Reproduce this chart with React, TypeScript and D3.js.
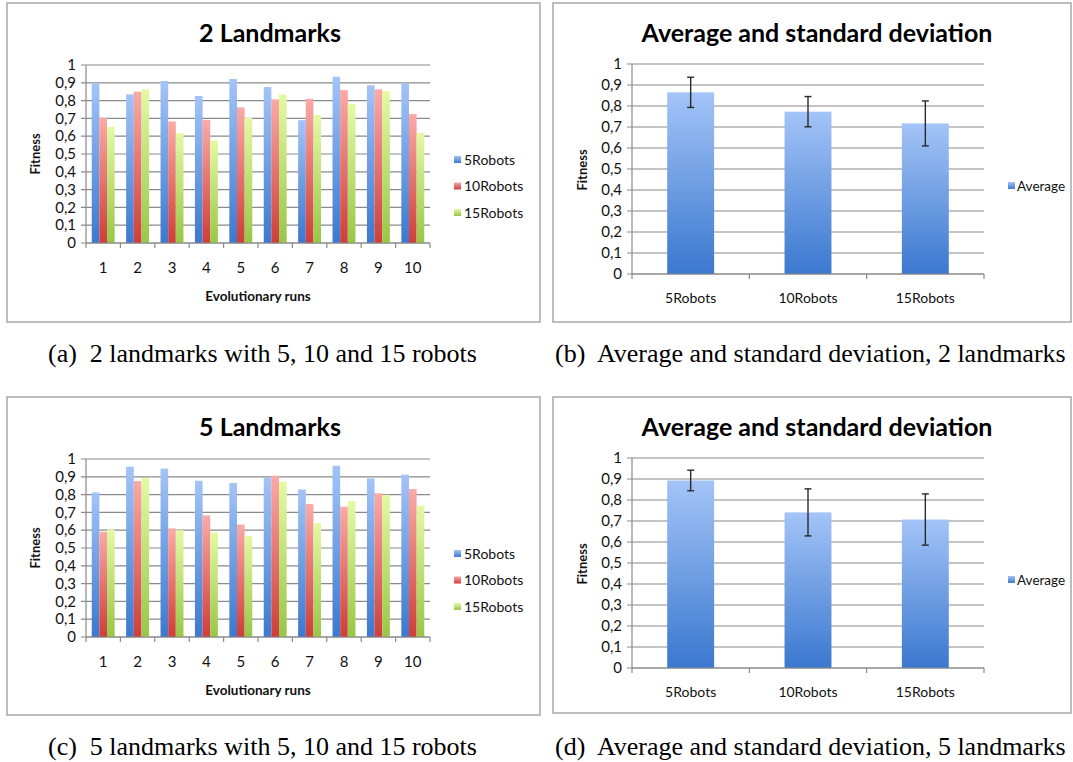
import React from 'react';
import * as d3 from 'd3';

const runs = ['1', '2', '3', '4', '5', '6', '7', '8', '9', '10'];
const seriesNames = ['5Robots', '10Robots', '15Robots'];
const yTicks = [0, 0.1, 0.2, 0.3, 0.4, 0.5, 0.6, 0.7, 0.8, 0.9, 1];

const lm2_5 = [0.897, 0.835, 0.91, 0.826, 0.921, 0.876, 0.69, 0.934, 0.886, 0.897];
const lm2_10 = [0.704, 0.85, 0.683, 0.692, 0.762, 0.807, 0.81, 0.859, 0.863, 0.724];
const lm2_15 = [0.653, 0.863, 0.617, 0.576, 0.704, 0.835, 0.719, 0.78, 0.852, 0.619];

const lm5_5 = [0.812, 0.957, 0.946, 0.878, 0.865, 0.897, 0.829, 0.962, 0.891, 0.912];
const lm5_10 = [0.591, 0.876, 0.61, 0.683, 0.632, 0.906, 0.747, 0.732, 0.807, 0.831];
const lm5_15 = [0.604, 0.893, 0.6, 0.587, 0.568, 0.872, 0.64, 0.764, 0.799, 0.739];

const avg2 = [0.865, 0.773, 0.717];
const sd2 = [0.072, 0.072, 0.107];
const avg5 = [0.893, 0.741, 0.707];
const sd5 = [0.049, 0.112, 0.122];

const FONT = 'Lato, "Open Sans", sans-serif';
const fmt = (v: number) => (v === 0 || v === 1 ? String(v) : v.toFixed(1).replace('.', ','));

const gradIds = ['gBlue', 'gRed', 'gGreen'];

function Defs() {
  const stops = [
    ['#a3c4f7', '#3b78cf'],
    ['#faaaa7', '#cf3d39'],
    ['#e4f9a4', '#98c646'],
  ];
  return (
    <defs>
      {stops.map((s, i) => (
        <linearGradient key={i} id={gradIds[i]} x1="0" y1="0" x2="0" y2="1">
          <stop offset="0" stopColor={s[0]} />
          <stop offset="1" stopColor={s[1]} />
        </linearGradient>
      ))}
    </defs>
  );
}

type Frame = { x0: number; y0: number; x1: number; y1: number };

function YAxis({ y, left, right }: { y: d3.ScaleLinear<number, number>; left: number; right: number }) {
  return (
    <g>
      {yTicks.map((t) => (
        <g key={t}>
          <line x1={left - 5} x2={right} y1={y(t)} y2={y(t)} stroke="#8a8a8a" strokeWidth={1.2} />
          <text x={left - 10} y={y(t)} dy="0.35em" textAnchor="end" fontSize={15} fontFamily={FONT} fill="#111">
            {fmt(t)}
          </text>
        </g>
      ))}
      <line x1={left} x2={left} y1={y(1)} y2={y(0)} stroke="#8a8a8a" strokeWidth={1.2} />
    </g>
  );
}

function GroupedPanel({ f, title, data, dy }: { f: Frame; title: string; data: number[][]; dy: number }) {
  const left = 86, right = 430, top = 65 + dy, bottom = 243 + dy;
  const x0 = d3.scaleBand<string>().domain(runs).range([left, right]).paddingInner(0).paddingOuter(0);
  const bw = x0.bandwidth() / 4.5;
  const y = d3.scaleLinear().domain([0, 1]).range([bottom, top]);
  return (
    <g>
      <rect x={f.x0} y={f.y0} width={f.x1 - f.x0} height={f.y1 - f.y0} fill="#fff" stroke="#a8a8a8" strokeWidth={1.5} />
      <text x={270} y={33 + dy} dy="0.35em" textAnchor="middle" fontSize={25} fontWeight="bold" fontFamily={FONT} fill="#000">
        {title}
      </text>
      <YAxis y={y} left={left} right={right} />
      {runs.map((r, i) => (
        <g key={r}>
          {data.map((s, j) => {
            const xs = (x0(r) as number) + x0.bandwidth() / 2 - 1.5 * bw + j * bw;
            return <rect key={j} x={xs} y={y(s[i])} width={bw} height={y(0) - y(s[i])} fill={`url(#${gradIds[j]})`} />;
          })}
          <text x={(x0(r) as number) + x0.bandwidth() / 2} y={268 + dy} dy="0.35em" textAnchor="middle" fontSize={15} fontFamily={FONT} fill="#111">
            {r}
          </text>
        </g>
      ))}
      <line x1={left} x2={right} y1={bottom} y2={bottom} stroke="#8a8a8a" strokeWidth={1.2} />
      {runs.map((r) => (
        <line key={r} x1={x0(r) as number} x2={x0(r) as number} y1={bottom} y2={bottom + 5} stroke="#8a8a8a" strokeWidth={1.2} />
      ))}
      <line x1={right} x2={right} y1={bottom} y2={bottom + 5} stroke="#8a8a8a" strokeWidth={1.2} />
      <text x={(left + right) / 2} y={296 + dy} dy="0.35em" textAnchor="middle" fontSize={13.5} fontWeight="bold" fontFamily={FONT} fill="#111">
        Evolutionary runs
      </text>
      <text transform={`translate(35,${154 + dy}) rotate(-90)`} dy="0.35em" textAnchor="middle" fontSize={13} fontWeight="bold" fontFamily={FONT} fill="#111">
        Fitness
      </text>
      {seriesNames.map((n, j) => (
        <g key={n}>
          <rect x={454} y={156 + dy + j * 26.5} width={7} height={7} fill={`url(#${gradIds[j]})`} />
          <text x={464} y={160 + dy + j * 26.5} dy="0.35em" fontSize={14} fontFamily={FONT} fill="#111">
            {n}
          </text>
        </g>
      ))}
    </g>
  );
}

function AvgPanel({ f, avg, sd, dy }: { f: Frame; avg: number[]; sd: number[]; dy: number }) {
  const left = 632, right = 984, top = 64 + dy, bottom = 274 + dy;
  const x = d3.scaleBand<string>().domain(seriesNames).range([left, right]).paddingInner(0).paddingOuter(0);
  const bw = x.bandwidth() / 2.5;
  const y = d3.scaleLinear().domain([0, 1]).range([bottom, top]);
  return (
    <g>
      <rect x={f.x0} y={f.y0} width={f.x1 - f.x0} height={f.y1 - f.y0} fill="#fff" stroke="#a8a8a8" strokeWidth={1.5} />
      <text x={817} y={33 + dy} dy="0.35em" textAnchor="middle" fontSize={25} fontWeight="bold" fontFamily={FONT} fill="#000">
        Average and standard deviation
      </text>
      <YAxis y={y} left={left} right={right} />
      {seriesNames.map((n, i) => {
        const cx = (x(n) as number) + x.bandwidth() / 2;
        return (
          <g key={n}>
            <rect x={cx - bw / 2} y={y(avg[i])} width={bw} height={y(0) - y(avg[i])} fill="url(#gBlue)" />
            <line x1={cx} x2={cx} y1={y(avg[i] + sd[i])} y2={y(avg[i] - sd[i])} stroke="#2a2a2a" strokeWidth={1.4} />
            <line x1={cx - 3.5} x2={cx + 3.5} y1={y(avg[i] + sd[i])} y2={y(avg[i] + sd[i])} stroke="#2a2a2a" strokeWidth={1.4} />
            <line x1={cx - 3.5} x2={cx + 3.5} y1={y(avg[i] - sd[i])} y2={y(avg[i] - sd[i])} stroke="#2a2a2a" strokeWidth={1.4} />
            <text x={cx} y={298 + dy} dy="0.35em" textAnchor="middle" fontSize={14} fontFamily={FONT} fill="#111">
              {n}
            </text>
          </g>
        );
      })}
      <line x1={left} x2={right} y1={bottom} y2={bottom} stroke="#8a8a8a" strokeWidth={1.2} />
      {[...seriesNames.map((n) => x(n) as number), right].map((v, k) => (
        <line key={k} x1={v} x2={v} y1={bottom} y2={bottom + 5} stroke="#8a8a8a" strokeWidth={1.2} />
      ))}
      <text transform={`translate(582,${170 + dy}) rotate(-90)`} dy="0.35em" textAnchor="middle" fontSize={13} fontWeight="bold" fontFamily={FONT} fill="#111">
        Fitness
      </text>
      <rect x={1008} y={182 + dy} width={7} height={7} fill="url(#gBlue)" />
      <text x={1017} y={186 + dy} dy="0.35em" fontSize={13.5} fontFamily={FONT} fill="#111">
        Average
      </text>
    </g>
  );
}

const captions = [
  { x: 48, y: 353, t: '(a)  2 landmarks with 5, 10 and 15 robots' },
  { x: 555, y: 353, t: '(b)  Average and standard deviation, 2 landmarks' },
  { x: 48, y: 746, t: '(c)  5 landmarks with 5, 10 and 15 robots' },
  { x: 555, y: 746, t: '(d)  Average and standard deviation, 5 landmarks' },
];

export default function App() {
  return (
    <svg width={1073} height={762} style={{ position: 'absolute', left: 0, top: 0, background: '#fff' }}>
      <Defs />
      <rect width={1073} height={762} fill="#fff" />
      <GroupedPanel f={{ x0: 7, y0: 3, x1: 540, y1: 322 }} title="2 Landmarks" data={[lm2_5, lm2_10, lm2_15]} dy={0} />
      <GroupedPanel f={{ x0: 7, y0: 397, x1: 540, y1: 715 }} title="5 Landmarks" data={[lm5_5, lm5_10, lm5_15]} dy={394} />
      <AvgPanel f={{ x0: 553, y0: 3, x1: 1071, y1: 322 }} avg={avg2} sd={sd2} dy={0} />
      <AvgPanel f={{ x0: 553, y0: 397, x1: 1071, y1: 713 }} avg={avg5} sd={sd5} dy={394} />
      {captions.map((c) => (
        <text key={c.t} x={c.x} y={c.y} dy="0.35em" fontSize={26} fontFamily='"Liberation Serif", "DejaVu Serif", serif' fill="#000" xmlSpace="preserve">
          {c.t}
        </text>
      ))}
    </svg>
  );
}
